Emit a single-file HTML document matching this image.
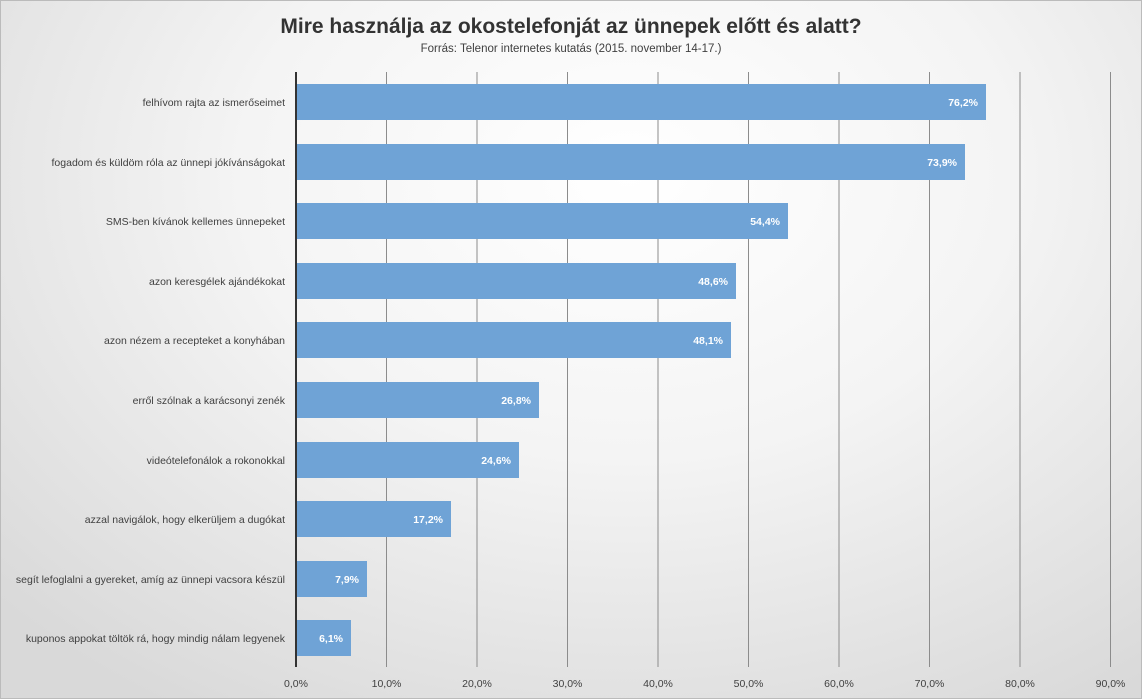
<!DOCTYPE html>
<html><head><meta charset="utf-8"><style>
body{margin:0;}
#c{position:relative;width:1142px;height:699px;overflow:hidden;font-family:"Liberation Sans","DejaVu Sans",sans-serif;
background:radial-gradient(ellipse 75% 90% at 55% 25%,#ffffff 0%,#f4f4f4 45%,#d9d9d9 100%);}
</style></head><body><div id="c">
<svg width="1142" height="699" style="position:absolute;left:0;top:0">
<rect x="0.5" y="0.5" width="1141" height="698" fill="none" stroke="#bbb"/>
<text x="571" y="33" text-anchor="middle" font-size="21" font-weight="bold" fill="#333">Mire használja az okostelefonját az ünnepek előtt és alatt?</text>
<text x="571" y="52" text-anchor="middle" font-size="11.5" fill="#404040">Forrás: Telenor internetes kutatás (2015. november 14-17.)</text>
<g stroke="#8c8c8c" stroke-width="1">
<line x1="386.5" y1="72" x2="386.5" y2="667"/><line x1="477" y1="72" x2="477" y2="667"/><line x1="567.5" y1="72" x2="567.5" y2="667"/><line x1="658" y1="72" x2="658" y2="667"/><line x1="748.5" y1="72" x2="748.5" y2="667"/><line x1="839" y1="72" x2="839" y2="667"/><line x1="929.5" y1="72" x2="929.5" y2="667"/><line x1="1020" y1="72" x2="1020" y2="667"/><line x1="1110.5" y1="72" x2="1110.5" y2="667"/>
</g>
<g font-size="10.5" fill="#404040" text-anchor="middle">
<text x="296" y="687">0,0%</text><text x="386.5" y="687">10,0%</text><text x="477" y="687">20,0%</text><text x="567.5" y="687">30,0%</text><text x="658" y="687">40,0%</text><text x="748.5" y="687">50,0%</text><text x="839" y="687">60,0%</text><text x="929.5" y="687">70,0%</text><text x="1020" y="687">80,0%</text><text x="1110.5" y="687">90,0%</text>
</g>
<g fill="#6fa3d6">
<rect x="296" y="84" width="690" height="36"/>
<rect x="296" y="144" width="669" height="36"/>
<rect x="296" y="203" width="492" height="36"/>
<rect x="296" y="263" width="440" height="36"/>
<rect x="296" y="322" width="435" height="36"/>
<rect x="296" y="382" width="243" height="36"/>
<rect x="296" y="442" width="223" height="36"/>
<rect x="296" y="501" width="155" height="36"/>
<rect x="296" y="561" width="71" height="36"/>
<rect x="296" y="620" width="55" height="36"/>
</g>
<g font-size="10.5" font-weight="bold" fill="#fff" text-anchor="end">
<text x="978" y="106">76,2%</text><text x="957" y="166">73,9%</text><text x="780" y="225">54,4%</text><text x="728" y="285">48,6%</text><text x="723" y="344">48,1%</text><text x="531" y="404">26,8%</text><text x="511" y="464">24,6%</text><text x="443" y="523">17,2%</text><text x="359" y="583">7,9%</text><text x="343" y="642">6,1%</text>
</g>
<g font-size="10.5" fill="#404040" text-anchor="end">
<text x="285" y="106">felhívom rajta az ismerőseimet</text>
<text x="285" y="166">fogadom és küldöm róla az ünnepi jókívánságokat</text>
<text x="285" y="225">SMS-ben kívánok kellemes ünnepeket</text>
<text x="285" y="285">azon keresgélek ajándékokat</text>
<text x="285" y="344">azon nézem a recepteket a konyhában</text>
<text x="285" y="404">erről szólnak a karácsonyi zenék</text>
<text x="285" y="464">videótelefonálok a rokonokkal</text>
<text x="285" y="523">azzal navigálok, hogy elkerüljem a dugókat</text>
<text x="285" y="583">segít lefoglalni a gyereket, amíg az ünnepi vacsora készül</text>
<text x="285" y="642">kuponos appokat töltök rá, hogy mindig nálam legyenek</text>
</g>
<line x1="296" y1="72" x2="296" y2="667" stroke="#333" stroke-width="2"/>
</svg>
</div></body></html>
